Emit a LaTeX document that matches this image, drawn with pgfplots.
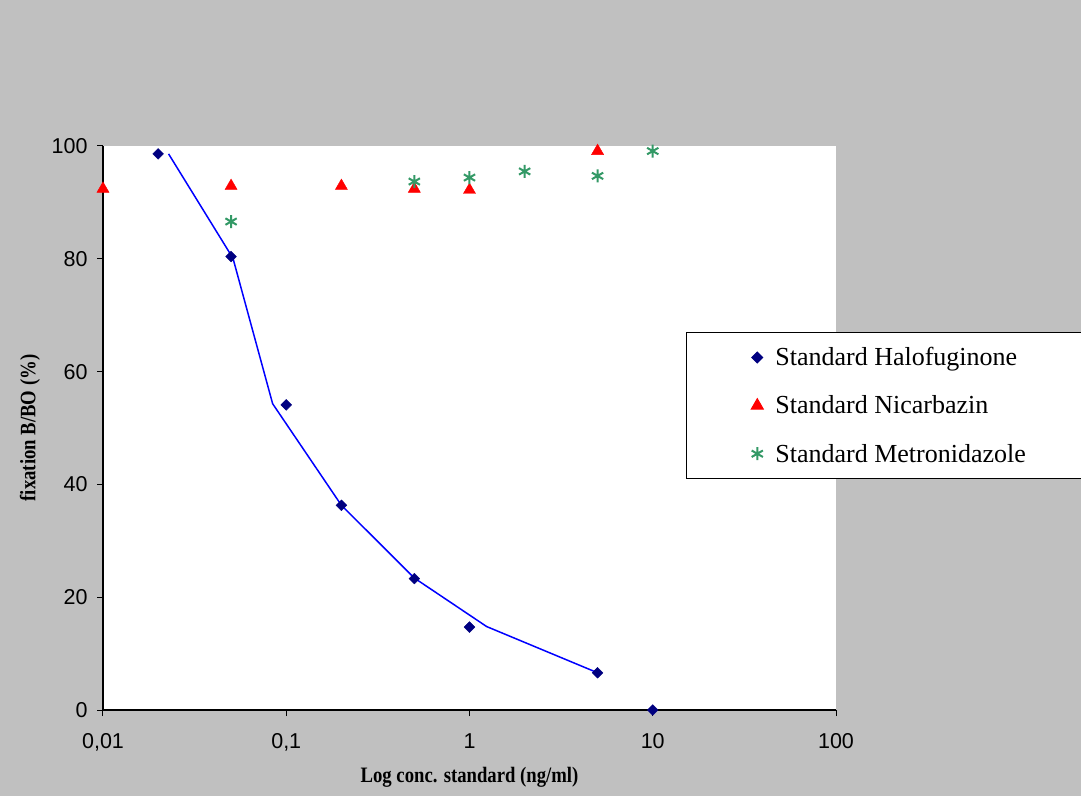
\documentclass[border=0pt]{standalone}
\usepackage{fontspec}
\setmainfont{Liberation Serif}
\newfontfamily\tickfont{Liberation Sans}
\newfontfamily\labelfont[FakeStretch=0.85]{Liberation Serif Bold}
\usepackage{pgfplots}
\pgfplotsset{compat=1.18}
\definecolor{bgGrey}{HTML}{C0C0C0}
\definecolor{haloNavy}{HTML}{000080}
\definecolor{metroGreen}{HTML}{339966}
\definecolor{fitBlue}{HTML}{0000FF}
\definecolor{nicRed}{HTML}{FF0000}

\begin{document}
\begin{tikzpicture}
\clip (0,0) rectangle (1081pt,796pt);
\fill[bgGrey] (0,0) rectangle (1081pt,796pt);
\begin{axis}[
  at={(103pt,86pt)}, anchor=south west,
  scale only axis, width=733pt, height=564pt,
  xmode=log, xmin=0.01, xmax=100, ymin=0, ymax=100,
  axis x line=bottom, axis y line=left,
  axis line style={-, line width=1.3pt},
  axis background/.style={fill=white},
  xtick={0.01,0.1,1,10,100}, xticklabels={{0,01},{0,1},1,10,100},
  ytick={0,20,...,100},
  xminorticks=false, yminorticks=false,
  tick align=outside, major tick length=6pt,
  tick style={black, line width=1pt},
  tick label style={font=\tickfont\fontsize{21.5}{24}\selectfont},
  /pgf/number format/assume math mode=true,
  xticklabel style={yshift=-14pt},
  yticklabel style={xshift=-6pt},
  xlabel={Log conc. standard (ng/ml)},
  ylabel={fixation B/BO (\%)},
  label style={font=\labelfont\fontsize{22}{25}\selectfont},
  xlabel style={at={(axis description cs:0.5,-0.1188)}, anchor=center},
  ylabel style={at={(axis description cs:-0.0996,0.5)}, anchor=center},
  clip=false,
  legend style={at={(0.795,0.670)}, anchor=north west, draw=black, line width=1pt,
    fill=white, font=\fontsize{26}{30}\selectfont, inner xsep=65pt, inner ysep=13pt,
    row sep=24.5pt, column sep=10pt},
  legend cell align=left,
]
% fitted curve (no legend)
\addplot[fitBlue, line width=1.5pt, mark=none, forget plot] coordinates {
  (0.0228,98.6) (0.0512,80.1) (0.0843,54.3) (0.2,36.3) (0.5,23.4) (1.24,14.8) (5,6.6)};

\addplot[only marks, mark=square*, mark size=3.8pt, color=haloNavy,
  mark options={rotate=45}] coordinates {
  (0.02,98.6) (0.05,80.4) (0.1,54.1) (0.2,36.3) (0.5,23.3) (1,14.7) (5,6.6) (10,0)};
\addlegendentry{\makebox[320pt][l]{Standard Halofuginone}}

\addplot[only marks, mark=triangle*, mark size=7pt, color=nicRed] coordinates {
  (0.01,92.4) (0.05,92.9) (0.2,92.9) (0.5,92.4) (1,92.2) (5,99.1)};
\addlegendentry{\makebox[320pt][l]{Standard Nicarbazin}}

\addplot[only marks, mark=asterisk, mark size=6.5pt, color=metroGreen,
  mark options={line width=2pt}] coordinates {
  (0.05,86.6) (0.5,93.7) (1,94.4) (2,95.5) (5,94.7) (10,99.1)};
\addlegendentry{\makebox[320pt][l]{Standard Metronidazole}}
\end{axis}
\end{tikzpicture}
\end{document}
